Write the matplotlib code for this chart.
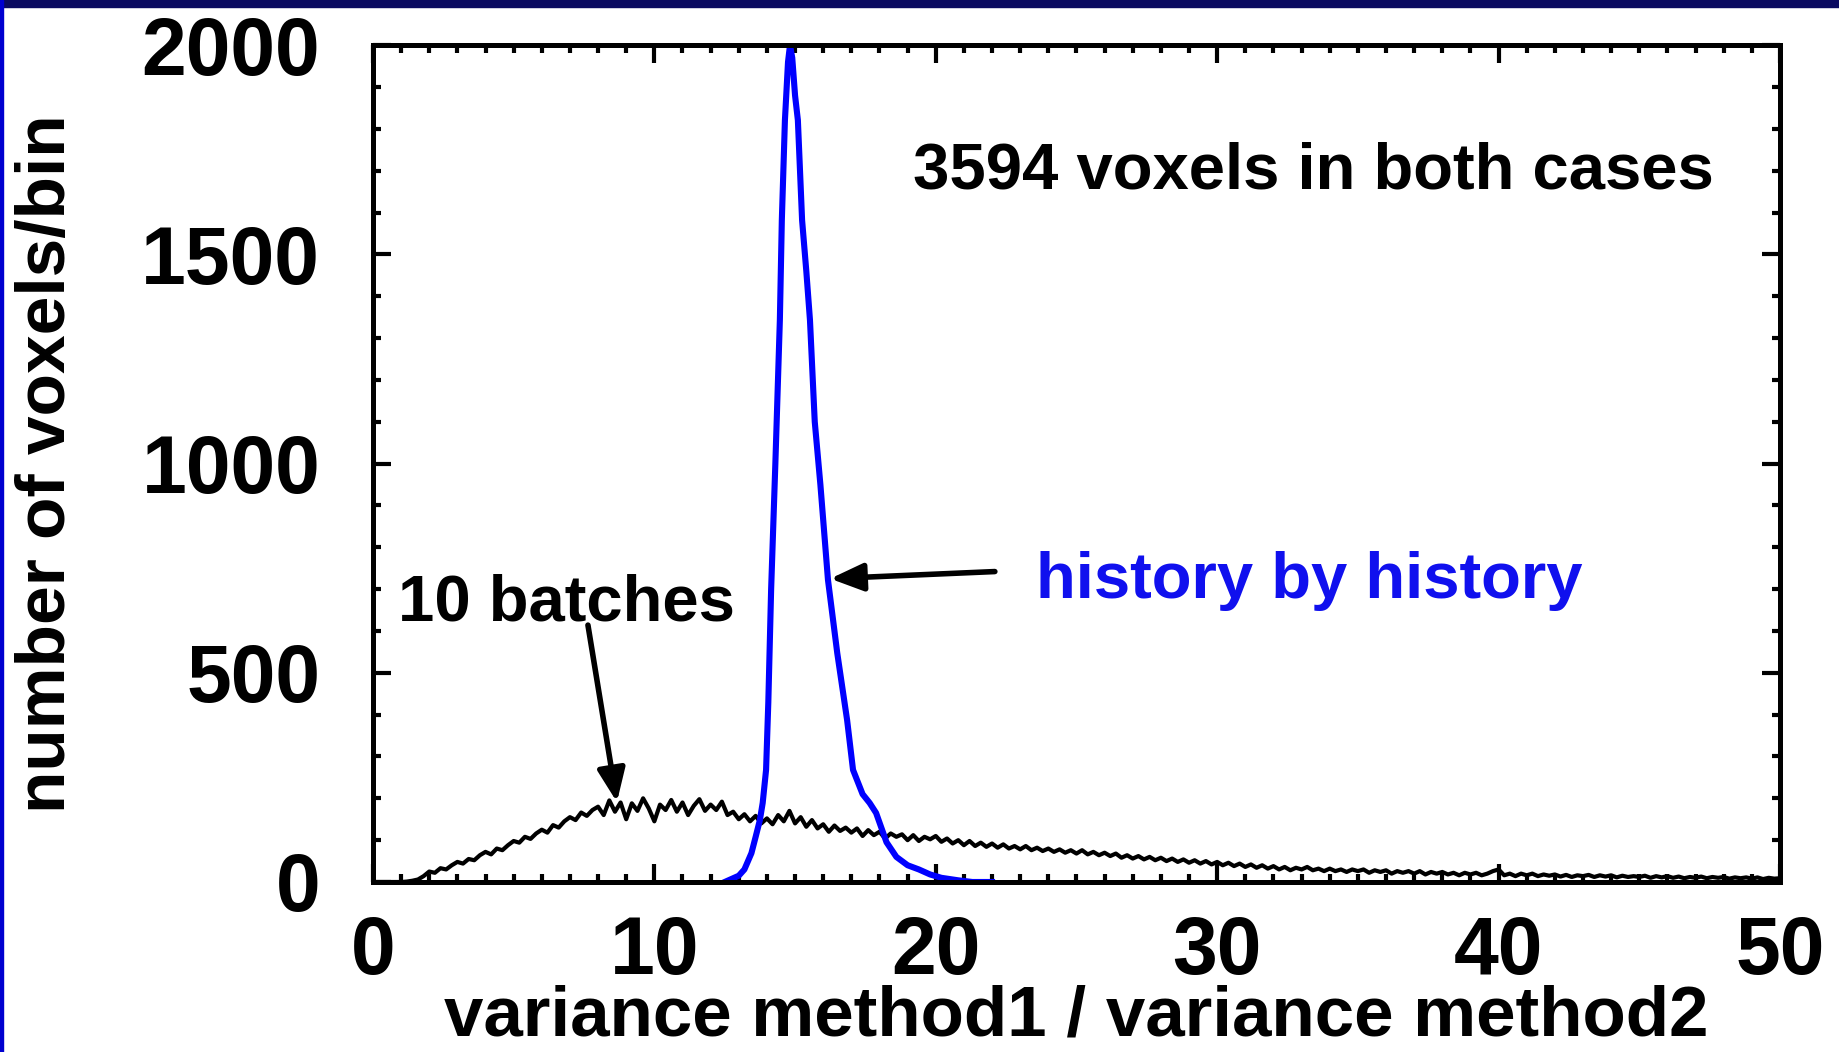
import numpy as np
import matplotlib.pyplot as plt
from matplotlib.patches import Rectangle
from matplotlib.ticker import MultipleLocator

plt.rcParams['font.family'] = ['Liberation Sans', 'DejaVu Sans']
plt.rcParams['font.weight'] = 'bold'

# history by history (blue)
hist_x = [12.5, 13.0, 13.2, 13.45, 13.6, 13.75, 13.85, 13.97, 14.05, 14.15, 14.3,
          14.46, 14.53, 14.64, 14.75, 14.82, 14.9, 15.0, 15.1, 15.25, 15.4, 15.53,
          15.7, 15.9, 16.17, 16.5, 16.85, 17.06, 17.4, 17.65, 17.88, 18.25, 18.6,
          19.0, 19.4, 19.8, 20.2, 20.8, 21.3, 22.0]
hist_y = [0, 15, 30, 69, 108, 148, 189, 268, 430, 700, 1000,
          1343, 1582, 1821, 1960, 2000, 1970, 1880, 1821, 1582, 1460, 1343,
          1100, 950, 722, 547, 387, 268, 210, 189, 165, 95, 60,
          40, 30, 18, 10, 4, 0, 0]

# 10 batches (black), bins of 0.2 from 0 to 50
batch_x = np.arange(0, 50.01, 0.2)
batch_y = [0, 0, 0, 0, 0, 0, 1, 3, 6, 14,
           25, 22, 33, 30, 40, 48, 44, 55, 52, 64,
           72, 66, 80, 76, 88, 98, 94, 108, 103, 116,
           125, 118, 136, 130, 145, 155, 148, 166, 158, 172,
           180, 160, 195, 168, 190, 150, 188, 170, 200, 176,
           145, 185, 172, 196, 168, 190, 160, 182, 198, 170,
           185, 172, 192, 160, 168, 150, 162, 145, 158, 140,
           152, 138, 160, 145, 170, 140, 155, 132, 148, 128,
           138, 120, 135, 122, 130, 118, 128, 110, 124, 112,
           120, 104, 116, 108, 114, 100, 112, 98, 108, 102,
           110, 96, 104, 92, 100, 88, 98, 86, 94, 84,
           92, 82, 90, 80, 86, 78, 86, 76, 82, 74,
           80, 72, 78, 70, 76, 68, 76, 66, 72, 64,
           70, 62, 68, 58, 64, 56, 62, 54, 60, 52,
           58, 50, 56, 48, 54, 46, 52, 44, 50, 42,
           48, 40, 46, 38, 44, 36, 42, 34, 40, 32,
           38, 30, 36, 28, 34, 30, 36, 28, 32, 26,
           32, 26, 30, 24, 30, 26, 30, 22, 28, 24,
           28, 20, 26, 22, 26, 20, 26, 18, 24, 20,
           24, 18, 22, 16, 22, 18, 22, 16, 20, 26,
           30, 16, 20, 14, 20, 16, 20, 14, 18, 15,
           18, 13, 17, 12, 16, 14, 17, 12, 16, 13,
           16, 11, 15, 12, 14, 12, 15, 10, 14, 11,
           14, 10, 13, 9, 12, 10, 13, 9, 12, 10,
           12, 8, 11, 9, 11, 8, 11, 7, 10, 8,
           9]

fig = plt.figure(figsize=(18.39, 10.52), dpi=100)
ax = fig.add_axes([0.2028, 0.1616, 0.7651, 0.7954])

ax.plot(batch_x, batch_y, color='black', lw=3.0)
ax.plot(hist_x, hist_y, color='#0000ff', lw=4.4)

ax.set_xlim(0, 50)
ax.set_ylim(0, 2000)
ax.xaxis.set_major_locator(MultipleLocator(10))
ax.xaxis.set_minor_locator(MultipleLocator(1))
ax.yaxis.set_major_locator(MultipleLocator(500))
ax.yaxis.set_minor_locator(MultipleLocator(100))
ax.tick_params(which='both', direction='in', top=True, right=True, width=3)
ax.tick_params(which='major', length=13, labelsize=58)
ax.tick_params(axis='x', which='major', pad=24)
ax.tick_params(axis='y', which='major', pad=38)
ax.tick_params(which='minor', length=6)
for s in ax.spines.values():
    s.set_linewidth(3.6)

ax.set_xlabel('variance method1 / variance method2', fontsize=51, fontweight='bold')
ax.xaxis.label.set_verticalalignment('baseline')
ax.xaxis.set_label_coords(0.5, -0.184)
ax.set_ylabel('number of voxels/bin', fontsize=50, fontweight='bold')
ax.yaxis.label.set_verticalalignment('center')
ax.yaxis.set_label_coords(-0.232, 0.5)

ax.text(19.2, 1658, '3594 voxels in both cases', fontsize=47)
ax.text(23.56, 679, 'history by history', fontsize=47, color='#1010ee')
ax.text(0.89, 626, '10 batches', fontsize=47)

arrow = dict(arrowstyle='-|>,head_length=1.0,head_width=0.42', mutation_scale=20,
             color='black', lw=4, shrinkA=0, shrinkB=0)
ax.annotate('', xy=(8.67, 191), xytext=(7.64, 614), arrowprops=arrow)
ax.annotate('', xy=(16.25, 725), xytext=(22.1, 742), arrowprops=arrow)

# slide frame: dark band on top, blue strip on left
fig.patches.append(Rectangle((0, 1 - 7 / 1052), 1, 7 / 1052, transform=fig.transFigure,
                             color='#0a0a60', zorder=0))
fig.patches.append(Rectangle((0, 0), 3 / 1839, 1, transform=fig.transFigure,
                             color='#0000d0', zorder=0))

fig.savefig('out.png', dpi=100)
